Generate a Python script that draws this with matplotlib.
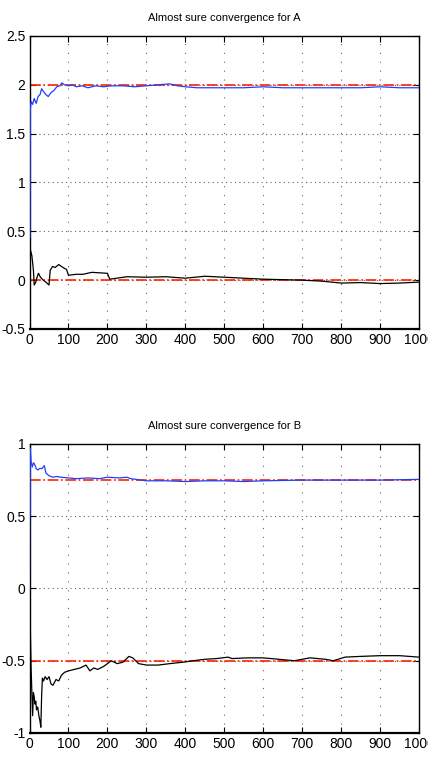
import matplotlib
matplotlib.use("Agg")
import matplotlib.pyplot as plt

plt.rcParams['font.family'] = ['Liberation Sans Narrow', 'Liberation Sans', 'DejaVu Sans']

# sample paths
a_blue_x = [1, 2, 4, 8, 12, 17, 22, 27, 31, 36, 42, 48, 55, 62, 70, 78, 83, 90, 100, 110, 120, 135,
            150, 170, 190, 210, 240, 270, 300, 330, 360, 380, 400, 430, 460, 500, 550, 600, 650,
            700, 750, 800, 850, 900, 950, 1000]
a_blue_y = [0.44, 1.75, 1.83, 1.8, 1.86, 1.81, 1.88, 1.9, 1.96, 1.93, 1.9, 1.88, 1.92, 1.94, 1.98,
            1.99, 2.02, 2.0, 1.99, 2.0, 1.98, 1.99, 1.97, 1.99, 1.98, 1.99, 1.99, 1.98, 1.99, 2.0,
            2.01, 1.99, 1.98, 1.97, 1.97, 1.97, 1.97, 1.98, 1.97, 1.97, 1.97, 1.97, 1.97, 1.98,
            1.97, 1.97]

a_black_x = [1, 3, 6, 10, 12, 16, 20, 23, 28, 35, 42, 50, 53, 59, 66, 75, 82, 90, 95, 100, 120,
             137, 160, 180, 200, 206, 250, 300, 350, 400, 450, 500, 550, 600, 650, 700, 750, 800,
             850, 900, 950, 1000]
a_black_y = [0.15, 0.3, 0.25, 0.1, -0.05, -0.02, 0.04, 0.07, 0.03, 0.0, -0.02, -0.05, 0.1, 0.14,
             0.13, 0.16, 0.14, 0.12, 0.11, 0.05, 0.06, 0.06, 0.08, 0.075, 0.07, 0.01, 0.035, 0.03,
             0.035, 0.02, 0.04, 0.03, 0.02, 0.01, 0.005, 0.0, -0.01, -0.03, -0.025, -0.035, -0.03,
             -0.02]

b_blue_x = [1, 2, 4, 7, 10, 13, 17, 21, 26, 32, 38, 42, 46, 50, 60, 70, 80, 100, 120, 150, 180,
            200, 230, 250, 260, 300, 350, 400, 450, 500, 550, 600, 700, 800, 900, 1000]
b_blue_y = [0.0, 0.97, 0.88, 0.84, 0.87, 0.86, 0.83, 0.82, 0.83, 0.83, 0.85, 0.8, 0.79, 0.78,
            0.77, 0.775, 0.77, 0.765, 0.76, 0.765, 0.76, 0.77, 0.765, 0.77, 0.76, 0.745, 0.745,
            0.74, 0.745, 0.745, 0.74, 0.745, 0.75, 0.75, 0.75, 0.755]

b_black_x = [1, 2, 4, 6, 8, 10, 12, 14, 16, 18, 21, 24, 27, 29, 31, 33, 36, 40, 45, 50, 55, 60,
             68, 75, 82, 90, 100, 115, 130, 145, 155, 165, 175, 190, 200, 210, 225, 240, 255,
             265, 280, 300, 330, 360, 394, 420, 450, 480, 510, 520, 560, 600, 640, 680, 720, 760,
             780, 810, 850, 900, 950, 1000]
b_black_y = [0.5, -0.27, -0.55, -0.72, -0.88, -0.72, -0.75, -0.8, -0.78, -0.84, -0.82, -0.88,
             -0.92, -0.96, -0.75, -0.62, -0.64, -0.61, -0.63, -0.61, -0.66, -0.67, -0.63, -0.64,
             -0.6, -0.58, -0.57, -0.56, -0.55, -0.53, -0.57, -0.55, -0.56, -0.54, -0.52, -0.5,
             -0.52, -0.51, -0.47, -0.48, -0.52, -0.53, -0.53, -0.52, -0.51, -0.5, -0.49, -0.485,
             -0.475, -0.485, -0.48, -0.48, -0.49, -0.5, -0.48, -0.49, -0.5, -0.475, -0.47, -0.465,
             -0.465, -0.475]

a_limits = [2.0, 0.0]
b_limits = [0.75, -0.5]
a_yticks = [-0.5, 0, 0.5, 1, 1.5, 2, 2.5]
a_ylabels = ['-0.5', '0', '0.5', '1', '1.5', '2', '2.5']
b_yticks = [-1, -0.5, 0, 0.5, 1]
b_ylabels = ['-1', '-0.5', '0', '0.5', '1']
xticks = list(range(0, 1001, 100))

fig = plt.figure(figsize=(4.28, 7.61), dpi=100)
ax1 = fig.add_axes([0.069, 0.5677, 0.910, 0.385])
ax2 = fig.add_axes([0.069, 0.0368, 0.910, 0.3798])


def style(ax, yticks, ylabels, ylim, title):
    ax.set_xlim(0, 1000)
    ax.set_ylim(*ylim)
    ax.set_xticks(xticks)
    ax.set_xticklabels([str(t) for t in xticks])
    ax.set_yticks(yticks)
    ax.set_yticklabels(ylabels)
    ax.tick_params(direction='in', top=True, right=True, length=4, width=0.8,
                   labelsize=10, pad=3)
    # matlab style dotted grid, the picture is squeezed sideways so dots differ
    ax.xaxis.grid(True, linestyle=(0, (1, 7)), color='0.4', linewidth=0.8)
    ax.yaxis.grid(True, linestyle=(0, (1, 3)), color='0.4', linewidth=0.8)
    for s in ax.spines.values():
        s.set_linewidth(1.0)
    ax.spines['bottom'].set_linewidth(1.6)
    ax.set_title(title, fontsize=8, pad=11)


ax1.plot(a_blue_x, a_blue_y, color='#1f3fff', linewidth=0.9, zorder=3)
ax1.plot(a_black_x, a_black_y, color='black', linewidth=0.9, zorder=3)
for v in a_limits:
    ax1.axhline(v, color='#ff2200', linestyle='-.', linewidth=1.2, zorder=2)
style(ax1, a_yticks, a_ylabels, (-0.5, 2.5), 'Almost sure convergence for A')

ax2.plot(b_blue_x, b_blue_y, color='#1f3fff', linewidth=0.9, zorder=3)
ax2.plot(b_black_x, b_black_y, color='black', linewidth=0.9, zorder=3)
for v in b_limits:
    ax2.axhline(v, color='#ff2200', linestyle='-.', linewidth=1.2, zorder=2)
style(ax2, b_yticks, b_ylabels, (-1, 1), 'Almost sure convergence for B')

fig.savefig('out.png', dpi=100)
